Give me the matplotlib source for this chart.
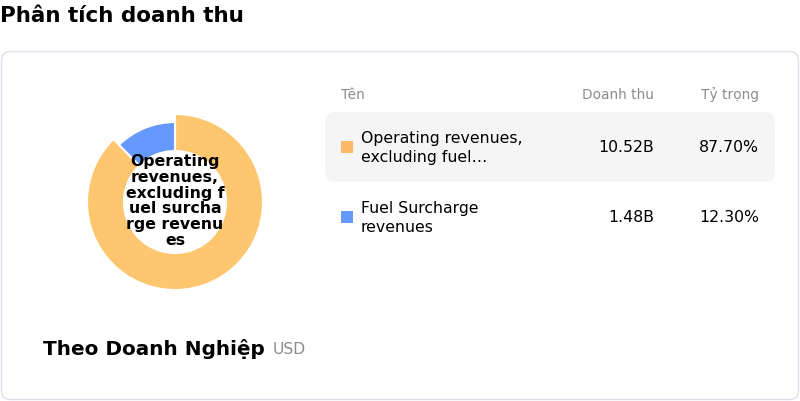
import matplotlib
matplotlib.use("Agg")
import matplotlib.pyplot as plt
from matplotlib.patches import FancyBboxPatch

plt.rcParams['font.family'] = ['DejaVu Sans']

# ---- data ----
title = "Phân tích doanh thu"
subtitle = "Theo Doanh Nghiệp"
unit = "USD"
headers = ["Tên", "Doanh thu", "Tỷ trọng"]
names = ["Operating revenues, excluding fuel surcharge revenues", "Fuel Surcharge revenues"]
names_display = ["Operating revenues,\nexcluding fuel…", "Fuel Surcharge\nrevenues"]
values = [10.52, 1.48]
value_labels = ["10.52B", "1.48B"]
share_labels = ["87.70%", "12.30%"]
center_label = "Operating\nrevenues,\nexcluding f\nuel surcha\nrge revenu\nes"
colors = ["#FFC670", "#6699FF"]
square_colors = ["#FDB868", "#6699FF"]

W, H = 800, 402
fig = plt.figure(figsize=(W / 100, H / 100), dpi=100)
bg = fig.add_axes([0, 0, 1, 1])
bg.set_xlim(0, W)
bg.set_ylim(H, 0)
bg.axis('off')

# title
bg.text(0, 16, title, fontsize=15.5, fontweight='bold', va='center', ha='left', color='#000000')

# card
card = FancyBboxPatch((1.5, 52.5), 797, 348, boxstyle="round,pad=0,rounding_size=9",
                      linewidth=1, edgecolor='#E0DFEA', facecolor='white')
bg.add_patch(card)

# highlighted row
hl = FancyBboxPatch((325, 113), 450, 70, boxstyle="round,pad=0,rounding_size=10",
                    linewidth=0, facecolor='#F5F5F5')
bg.add_patch(hl)

# table header
hy = 95
bg.text(341, hy, headers[0], fontsize=9.9, color='#8C8C8C', va='center', ha='left')
bg.text(654, hy, headers[1], fontsize=9.9, color='#8C8C8C', va='center', ha='right')
bg.text(759, hy, headers[2], fontsize=9.9, color='#8C8C8C', va='center', ha='right')

row_y = [148, 218]
for i in range(len(names)):
    y = row_y[i]
    sq = plt.Rectangle((341, y - 6), 12, 12, facecolor=square_colors[i], edgecolor='none')
    bg.add_patch(sq)
    bg.text(361, y, names_display[i], fontsize=11.3, color='#000000', va='center', ha='left',
            linespacing=1.38)
    bg.text(654, y, value_labels[i], fontsize=11.3, color='#000000', va='center', ha='right')
    bg.text(759, y, share_labels[i], fontsize=11.3, color='#000000', va='center', ha='right')

# subtitle
bg.text(43, 349, subtitle, fontsize=14.4, fontweight='bold', color='#000000', va='center', ha='left')
bg.text(273, 350, unit, fontsize=11.2, color='#8C8C8C', va='center', ha='left')

# donut
cx, cy, R = 175, 203, 90
ax = fig.add_axes([(cx - R) / W, (H - cy - R) / H, 2 * R / W, 2 * R / H])
wedges, _ = ax.pie(values, colors=colors, startangle=90, counterclock=False, radius=88,
                   wedgeprops=dict(width=37, edgecolor='white', linewidth=1.5))
wedges[1].set_radius(80)
wedges[1].set_width(29)
ax.set_xlim(-R, R)
ax.set_ylim(-R, R)
ax.set_aspect('equal')
ax.axis('off')
ax.text(0, 2, center_label, fontsize=11.3, fontweight='bold', ha='center', va='center',
        linespacing=1.08, color='#000000')

fig.savefig("out.png", dpi=100)
